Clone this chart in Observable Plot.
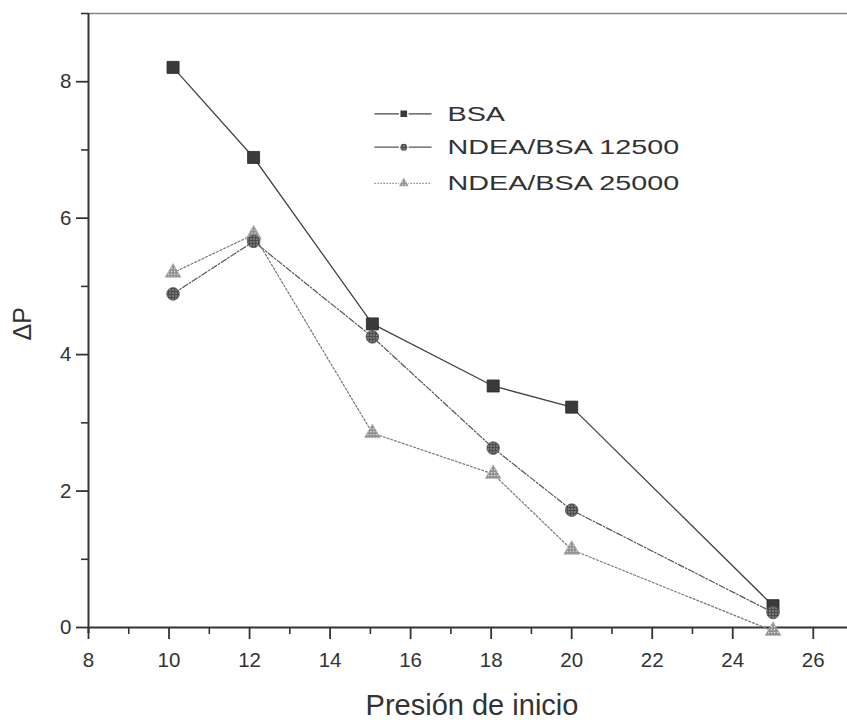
<!DOCTYPE html>
<html>
<head>
<meta charset="utf-8">
<script src="https://cdn.jsdelivr.net/npm/d3@7"></script>
<script src="https://cdn.jsdelivr.net/npm/@observablehq/plot@0.6"></script>
<style>
  body { margin: 0; background: #fff; }
</style>
</head>
<body>
<svg width="0" height="0" style="position:absolute">
  <defs>
    <pattern id="hatchDark" width="3" height="3" patternUnits="userSpaceOnUse">
      <rect width="3" height="3" fill="#4a4a4a"/>
      <rect x="1" y="1" width="1.1" height="1.1" fill="#e8e8e8"/>
    </pattern>
    <pattern id="hatchLight" width="3" height="3" patternUnits="userSpaceOnUse">
      <rect width="3" height="3" fill="#8f8f8f"/>
      <rect x="1" y="1" width="1.2" height="1.2" fill="#f4f4f4"/>
    </pattern>
  </defs>
</svg>
<div id="chart"></div>
<script>
// ---- data ----
const presion   = [10.1, 12.1, 15.05, 18.05, 20, 25];
const bsa       = [8.21, 6.89, 4.45, 3.54, 3.23, 0.32];
const ndea12500 = [4.89, 5.66, 4.26, 2.63, 1.72, 0.22];
const ndea25000 = [5.20, 5.76, 2.85, 2.25, 1.14, -0.05];
const seriesNames = ["BSA", "NDEA/BSA 12500", "NDEA/BSA 25000"];
const xMajor = [8, 10, 12, 14, 16, 18, 20, 22, 24, 26];
const xMinor = [9, 11, 13, 15, 17, 19, 21, 23, 25];
const yMajor = [0, 2, 4, 6, 8];
const yMinor = [1, 3, 5, 7, 9];
const xTitle = "Presión de inicio";
const yTitle = "ΔP";

const rows = (vals) => presion.map((x, i) => ({x, y: vals[i]}));
const rBSA = rows(bsa), r125 = rows(ndea12500), r250 = rows(ndea25000);

// legend layout (in data units of the chart)
const legX1 = 15.1, legX2 = 16.52, legXm = 15.83, legXt = 16.92;
const legY = [7.53, 7.04, 6.51];
const legend = seriesNames.map((name, i) => ({name, y: legY[i]}));

const ink = "#333";
const fmt = (d) => String(d);

const chart = Plot.plot({
  width: 847,
  height: 720,
  marginLeft: 88,
  marginRight: 0,
  marginTop: 13,
  marginBottom: 93,
  style: {background: "#fff", fontFamily: "'Liberation Sans', Arial, sans-serif", color: ink},
  x: {domain: [8, 26.85], label: null},
  y: {domain: [0, 9], label: null},
  marks: [
    // frame top
    Plot.ruleY([9], {stroke: "#888", strokeWidth: 1.5}),
    // axes
    Plot.axisX(xMajor, {tickSize: 12, tickPadding: 13, fontSize: 20.5, tickFormat: fmt, stroke: ink, fill: ink, strokeWidth: 1.8, label: null}),
    Plot.axisX(xMinor, {tickSize: 7, tickFormat: () => "", stroke: ink, strokeWidth: 1.6, label: null}),
    Plot.axisY(yMajor, {tickSize: 12, tickPadding: 5, fontSize: 20.5, tickFormat: fmt, stroke: ink, fill: ink, strokeWidth: 1.8, label: null}),
    Plot.axisY(yMinor, {tickSize: 7, tickFormat: () => "", stroke: ink, strokeWidth: 1.6, label: null}),
    Plot.ruleX([8], {y1: -0.09, y2: 9, stroke: ink, strokeWidth: 2}),
    Plot.ruleY([0], {x1: 8, x2: 26.85, stroke: ink, strokeWidth: 2}),
    // series lines
    Plot.line(rBSA, {x: "x", y: "y", stroke: "#444", strokeWidth: 1.3}),
    Plot.line(r125, {x: "x", y: "y", stroke: "#555", strokeWidth: 1.2, strokeDasharray: "6,2,1.5,2"}),
    Plot.line(r250, {x: "x", y: "y", stroke: "#777", strokeWidth: 1.2, strokeDasharray: "2,2"}),
    // markers
    Plot.dot(rBSA, {x: "x", y: "y", symbol: "square", r: 6.8, fill: "#3a3a3a", stroke: "#2a2a2a", strokeWidth: 0.8}),
    Plot.dot(r250, {x: "x", y: "y", symbol: "triangle", r: 5.9, fill: "url(#hatchLight)", stroke: "#aaa", strokeWidth: 0.6}),
    Plot.dot(r125, {x: "x", y: "y", symbol: "circle", r: 6.3, fill: "url(#hatchDark)", stroke: "#555", strokeWidth: 0.8}),
    // legend
    Plot.link(legend.slice(0, 1), {x1: () => legX1, x2: () => legX2, y1: "y", y2: "y", stroke: "#444", strokeWidth: 1.3}),
    Plot.link(legend.slice(1, 2), {x1: () => legX1, x2: () => legX2, y1: "y", y2: "y", stroke: "#555", strokeWidth: 1.2}),
    Plot.link(legend.slice(2, 3), {x1: () => legX1, x2: () => legX2, y1: "y", y2: "y", stroke: "#888", strokeWidth: 1.2, strokeDasharray: "1.5,1.5"}),
    Plot.dot(legend.slice(0, 1), {x: () => legXm, y: "y", symbol: "square", r: 4.6, fill: "#3a3a3a", stroke: "#fff", strokeWidth: 1.5}),
    Plot.dot(legend.slice(1, 2), {x: () => legXm, y: "y", symbol: "circle", r: 4.3, fill: "url(#hatchDark)", stroke: "#fff", strokeWidth: 1.5}),
    Plot.dot(legend.slice(2, 3), {x: () => legXm, y: "y", symbol: "triangle", r: 4.4, fill: "url(#hatchLight)", stroke: "#fff", strokeWidth: 1.2}),
    Plot.text(legend, {x: () => legXt, y: "y", text: "name", textAnchor: "start", lineAnchor: "middle", fontSize: 21, fill: ink}),
    // axis titles
    Plot.text([xTitle], {frameAnchor: "bottom", text: (d) => d, dx: 4, dy: 78, fontSize: 29, fill: ink, lineAnchor: "middle"}),
    Plot.text([yTitle], {frameAnchor: "left", text: (d) => d, dx: -66, dy: 20, rotate: -90, fontSize: 25, fill: ink, lineAnchor: "middle"})
  ]
});

document.getElementById("chart").appendChild(chart);

// stretch legend labels horizontally, as in the original
const svgRect = chart.getBoundingClientRect();
chart.querySelectorAll("text").forEach((t) => {
  if (!seriesNames.includes(t.textContent)) return;
  const L = t.getBoundingClientRect().left - svgRect.left;
  const tr = t.getAttribute("transform") || "";
  t.setAttribute("transform", `translate(${L},0) scale(1.37,1) translate(${-L},0) ${tr}`);
});
</script>
</body>
</html>
